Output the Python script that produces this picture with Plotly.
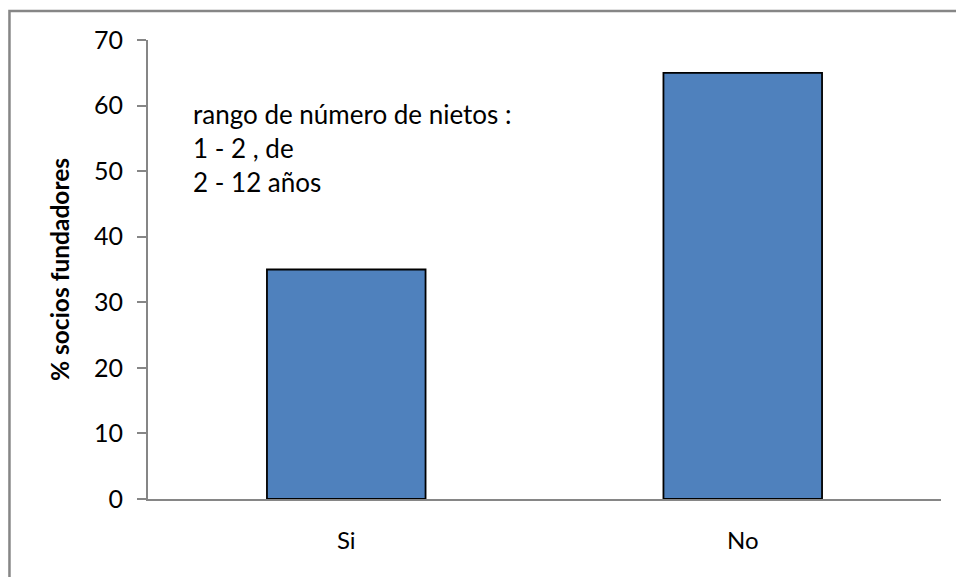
import plotly.graph_objects as go

# Share of founding members, grouped by answer
categories = ["Si", "No"]
values = [35, 65]
y_ticks = [0, 10, 20, 30, 40, 50, 60, 70]
note_lines = ["rango de número de nietos :", "1 - 2 , de", "2 - 12 años"]

FONT = "Lato"
GRAY = "#868686"

fig = go.Figure(
    go.Bar(
        x=categories,
        y=values,
        width=0.4,
        marker=dict(color="#4F81BD", line=dict(color="#000000", width=1.8)),
        hoverinfo="x+y",
    )
)

fig.update_layout(
    width=956,
    height=577,
    margin=dict(l=148, r=15, t=40, b=78),
    paper_bgcolor="white",
    plot_bgcolor="white",
    showlegend=False,
    font=dict(family=FONT, size=24, color="#000000"),
    xaxis=dict(
        showline=True,
        linecolor=GRAY,
        linewidth=2,
        ticks="",
        showgrid=False,
        zeroline=False,
        ticklabelstandoff=19,
        tickfont=dict(family=FONT, size=24),
    ),
    yaxis=dict(
        range=[0, 70],
        tickvals=y_ticks,
        showline=True,
        linecolor=GRAY,
        linewidth=2,
        ticks="outside",
        ticklen=9,
        tickwidth=2,
        tickcolor=GRAY,
        showgrid=False,
        zeroline=False,
        ticklabelstandoff=9,
        tickfont=dict(family=FONT, size=25),
        title=dict(
            text="<b>% socios fundadores</b>",
            font=dict(family=FONT, size=24.5),
            standoff=17,
        ),
    ),
)

# Frame around the chart area
fig.add_shape(
    type="rect",
    xref="paper",
    yref="paper",
    x0=-0.1747,
    x1=1.03,
    y0=-0.18,
    y1=1.0632,
    line=dict(color=GRAY, width=2.5),
    fillcolor="rgba(0,0,0,0)",
    layer="below",
)

# Note text inside the plot
for i, line in enumerate(note_lines):
    fig.add_annotation(
        text=line,
        xref="paper",
        yref="paper",
        x=(191 - 148) / 793,
        y=(499 - (114 + 34 * i)) / 459,
        xanchor="left",
        yanchor="middle",
        showarrow=False,
        font=dict(family=FONT, size=26, color="#000000"),
    )

fig.write_html("out.html")
